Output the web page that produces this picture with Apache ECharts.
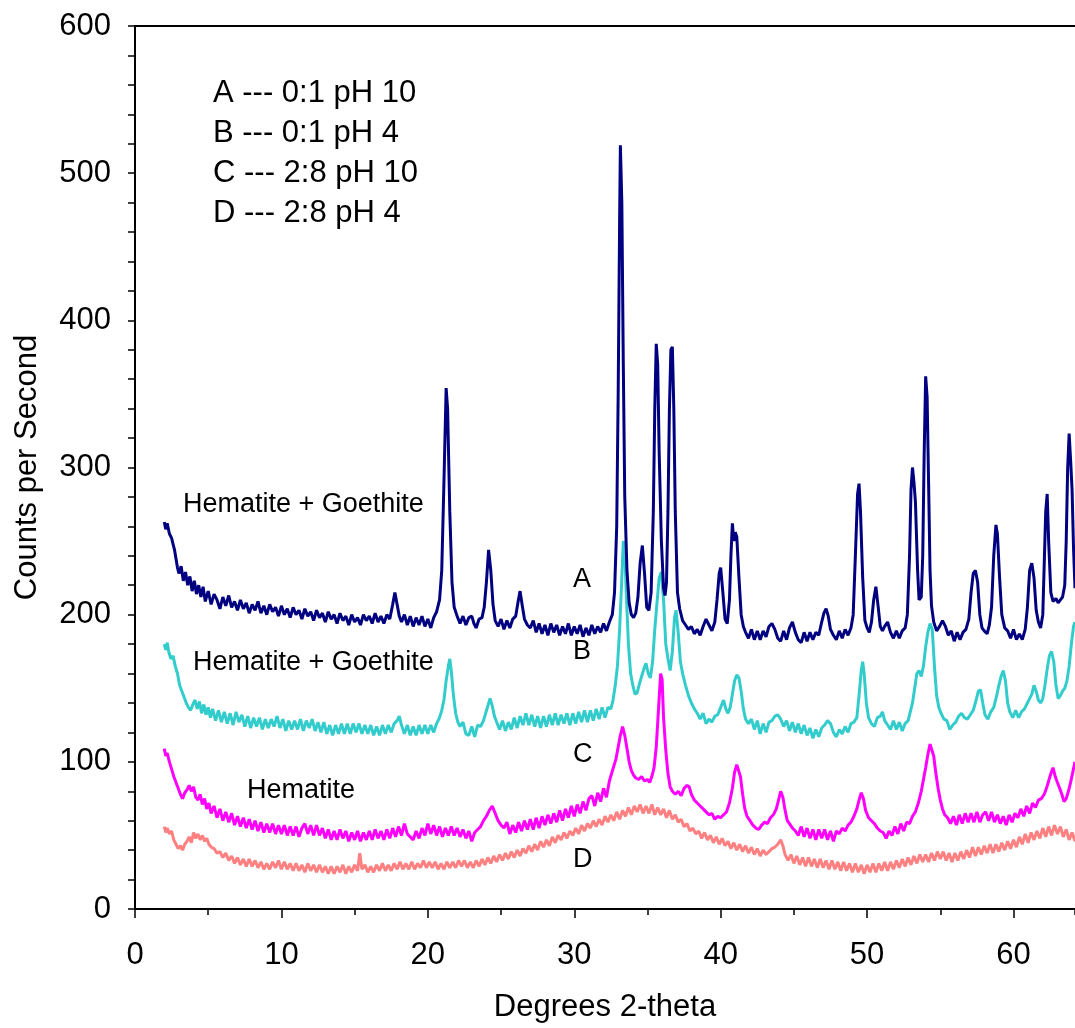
<!DOCTYPE html>
<html>
<head>
<meta charset="utf-8">
<script src="https://cdn.jsdelivr.net/npm/echarts@6/dist/echarts.min.js"></script>
<style>
  html, body { margin: 0; padding: 0; background: #fff; }
  #chart { width: 1075px; height: 1028px; }
</style>
</head>
<body>
<div id="chart"></div>
<script>
// [2-theta, counts per second]
const seriesA = [
  [2.0,263],[2.1,258],[2.2,262],[2.35,255],[2.5,252],[2.6,248],[2.7,244],[2.8,238],[2.9,232],[3.0,228],
  [3.15,233],[3.3,223],[3.45,229],[3.6,220],[3.75,226],[3.9,216],[4.05,223],[4.2,214],[4.35,220],[4.5,212],
  [4.65,219],[4.8,209],[5.0,216],[5.2,207],[5.4,214],[5.6,210],[5.8,204],[6.0,212],[6.2,206],[6.4,213],
  [6.6,205],[6.8,209],[7.0,203],[7.2,210],[7.4,204],[7.6,208],[7.8,201],[8.0,207],[8.2,203],[8.4,209],
  [8.6,201],[8.8,206],[9.0,200],[9.2,207],[9.4,202],[9.6,205],[9.8,199],[10.0,206],[10.2,200],[10.4,204],
  [10.6,198],[10.8,205],[11.0,200],[11.2,203],[11.4,197],[11.6,204],[11.8,199],[12.0,202],[12.2,196],[12.4,203],
  [12.6,198],[12.8,201],[13.0,195],[13.2,202],[13.4,197],[13.6,200],[13.8,194],[14.0,201],[14.2,196],[14.4,199],
  [14.6,193],[14.8,200],[15.0,195],[15.2,198],[15.4,193],[15.6,200],[15.8,196],[16.0,199],[16.2,194],[16.4,201],
  [16.6,195],[16.8,199],[17.0,194],[17.2,200],[17.4,197],[17.6,207],[17.75,215],[17.9,207],[18.05,199],[18.2,195],
  [18.4,200],[18.6,193],[18.8,199],[19.0,192],[19.2,198],[19.4,193],[19.6,199],[19.8,192],[20.0,197],[20.2,191],
  [20.4,198],[20.6,202],[20.8,210],[20.95,230],[21.1,290],[21.25,354],[21.35,340],[21.5,270],[21.65,222],[21.8,205],
  [22.0,199],[22.2,194],[22.4,199],[22.6,193],[22.8,198],[23.0,199],[23.15,194],[23.3,191],[23.5,197],[23.7,198],
  [23.85,205],[24.0,222],[24.15,244],[24.3,230],[24.45,207],[24.6,196],[24.8,192],[25.0,197],[25.2,190],[25.4,196],
  [25.6,191],[25.8,197],[26.0,199],[26.15,208],[26.3,216],[26.45,206],[26.6,197],[26.8,193],[27.0,191],[27.2,196],
  [27.4,188],[27.6,194],[27.8,187],[28.0,193],[28.2,186],[28.4,194],[28.6,188],[28.8,193],[29.0,186],[29.2,192],
  [29.4,187],[29.6,194],[29.8,186],[30.0,192],[30.2,187],[30.4,193],[30.6,185],[30.8,191],[31.0,186],[31.2,193],
  [31.4,187],[31.6,192],[31.8,188],[32.0,194],[32.2,189],[32.4,195],[32.6,200],[32.75,215],[32.9,260],[33.0,350],
  [33.1,470],[33.15,519],[33.25,480],[33.35,370],[33.45,280],[33.6,230],[33.75,208],[33.9,200],[34.05,198],[34.2,201],
  [34.35,212],[34.5,235],[34.65,247],[34.8,228],[34.95,205],[35.1,203],[35.25,215],[35.4,270],[35.5,340],[35.6,384],
  [35.7,370],[35.8,310],[35.95,250],[36.1,218],[36.2,213],[36.3,222],[36.4,270],[36.5,340],[36.6,380],[36.7,382],
  [36.8,340],[36.9,270],[37.05,215],[37.2,204],[37.4,196],[37.6,193],[37.8,190],[38.0,192],[38.2,187],[38.4,190],
  [38.6,186],[38.8,192],[39.0,197],[39.2,193],[39.4,189],[39.6,195],[39.75,210],[39.9,228],[40.0,232],[40.15,215],
  [40.3,197],[40.45,194],[40.6,210],[40.7,240],[40.8,262],[40.9,250],[41.0,256],[41.1,253],[41.25,225],[41.4,200],
  [41.55,192],[41.7,188],[41.9,184],[42.1,190],[42.3,183],[42.5,189],[42.7,183],[42.9,189],[43.1,185],[43.3,192],
  [43.5,194],[43.7,190],[43.9,184],[44.1,182],[44.3,189],[44.5,183],[44.7,191],[44.9,195],[45.1,188],[45.3,183],
  [45.5,181],[45.7,188],[45.9,182],[46.1,188],[46.3,183],[46.5,188],[46.7,186],[46.9,195],[47.05,201],[47.2,204],
  [47.35,199],[47.5,190],[47.7,186],[47.9,183],[48.1,189],[48.3,184],[48.5,190],[48.7,186],[48.9,191],[49.05,200],
  [49.2,240],[49.35,282],[49.45,289],[49.55,270],[49.7,225],[49.85,196],[50.0,191],[50.15,188],[50.3,195],[50.45,210],
  [50.6,219],[50.75,206],[50.9,192],[51.05,189],[51.2,192],[51.4,195],[51.6,188],[51.8,184],[52.0,189],[52.2,184],
  [52.4,189],[52.6,191],[52.75,200],[52.9,240],[53.0,285],[53.1,300],[53.2,290],[53.3,277],[53.45,230],[53.55,210],
  [53.7,212],[53.8,240],[53.9,310],[54.0,362],[54.1,348],[54.2,290],[54.3,230],[54.4,206],[54.55,195],[54.75,189],
  [54.95,192],[55.15,196],[55.35,192],[55.55,186],[55.75,189],[55.95,182],[56.15,188],[56.35,183],[56.55,188],[56.75,190],
  [56.95,197],[57.1,215],[57.25,228],[57.4,230],[57.55,222],[57.7,200],[57.85,191],[58.0,189],[58.2,187],[58.35,193],
  [58.5,205],[58.65,240],[58.8,261],[58.9,255],[59.05,225],[59.2,200],[59.4,191],[59.6,189],[59.8,184],[60.0,190],
  [60.2,183],[60.4,187],[60.6,183],[60.8,190],[60.95,205],[61.1,230],[61.25,235],[61.4,225],[61.55,203],[61.7,195],
  [61.85,191],[62.0,200],[62.1,235],[62.2,270],[62.3,282],[62.4,250],[62.55,215],[62.7,209],[62.9,211],[63.05,208],
  [63.2,210],[63.35,212],[63.5,220],[63.6,250],[63.7,300],[63.8,323],[63.9,305],[64.0,285],[64.1,245],[64.2,218]
];

const seriesB = [
  [2.0,180],[2.1,176],[2.2,181],[2.3,175],[2.45,170],[2.6,172],[2.75,165],[2.9,160],[3.05,152],[3.2,148],
  [3.35,144],[3.5,140],[3.65,137],[3.8,135],[3.95,139],[4.1,142],[4.25,136],[4.4,141],[4.55,133],[4.7,139],
  [4.85,132],[5.0,137],[5.15,130],[5.3,136],[5.5,128],[5.7,135],[5.9,127],[6.1,134],[6.3,126],[6.5,133],
  [6.7,125],[6.9,134],[7.1,127],[7.3,132],[7.5,124],[7.7,131],[7.9,123],[8.1,130],[8.3,124],[8.5,130],
  [8.7,122],[8.9,129],[9.1,123],[9.3,129],[9.5,124],[9.7,131],[9.9,123],[10.1,129],[10.3,121],[10.5,128],
  [10.7,122],[10.9,128],[11.1,122],[11.3,129],[11.5,121],[11.7,128],[11.9,123],[12.1,129],[12.3,121],[12.5,127],
  [12.7,120],[12.9,127],[13.1,119],[13.3,125],[13.5,118],[13.7,125],[13.9,119],[14.1,126],[14.3,119],[14.5,126],
  [14.7,119],[14.9,126],[15.1,120],[15.3,126],[15.5,119],[15.7,125],[15.9,119],[16.1,125],[16.3,118],[16.5,124],
  [16.7,118],[16.9,125],[17.1,119],[17.3,125],[17.5,120],[17.7,126],[17.9,128],[18.05,131],[18.2,125],[18.4,119],
  [18.6,125],[18.8,118],[19.0,124],[19.2,118],[19.4,125],[19.6,119],[19.8,125],[20.0,119],[20.2,125],[20.4,120],
  [20.6,126],[20.8,130],[20.95,135],[21.1,142],[21.25,155],[21.4,165],[21.5,170],[21.6,162],[21.75,145],[21.9,133],
  [22.05,127],[22.2,124],[22.4,127],[22.6,119],[22.8,118],[23.0,124],[23.2,117],[23.4,125],[23.6,124],[23.8,128],
  [23.95,133],[24.1,138],[24.25,143],[24.4,138],[24.55,131],[24.7,127],[24.9,122],[25.1,128],[25.3,121],[25.5,127],
  [25.7,122],[25.9,130],[26.1,123],[26.3,131],[26.5,125],[26.7,133],[26.9,125],[27.1,132],[27.3,124],[27.5,131],
  [27.7,123],[27.9,131],[28.1,124],[28.3,132],[28.5,125],[28.7,133],[28.9,125],[29.1,132],[29.3,126],[29.5,133],
  [29.7,125],[29.9,133],[30.1,126],[30.3,134],[30.5,127],[30.7,135],[30.9,127],[31.1,135],[31.3,128],[31.5,136],
  [31.7,129],[31.9,137],[32.1,130],[32.3,137],[32.5,136],[32.65,142],[32.8,152],[32.95,165],[33.1,190],[33.25,225],
  [33.35,250],[33.45,245],[33.55,215],[33.7,180],[33.85,160],[34.0,152],[34.15,146],[34.3,147],[34.45,153],[34.6,158],
  [34.75,163],[34.9,167],[35.05,160],[35.2,157],[35.35,168],[35.5,190],[35.65,208],[35.8,225],[35.95,229],[36.1,210],
  [36.25,180],[36.4,170],[36.55,162],[36.7,175],[36.85,198],[36.95,203],[37.1,188],[37.25,168],[37.4,160],[37.6,152],
  [37.8,145],[38.0,140],[38.2,136],[38.4,133],[38.6,129],[38.8,133],[39.0,126],[39.2,129],[39.4,127],[39.6,131],
  [39.8,132],[40.0,137],[40.2,142],[40.35,136],[40.5,133],[40.65,137],[40.8,146],[40.95,155],[41.1,159],[41.25,157],
  [41.4,148],[41.55,136],[41.7,129],[41.9,126],[42.1,129],[42.3,122],[42.5,128],[42.7,119],[42.9,126],[43.1,120],
  [43.3,127],[43.5,128],[43.7,131],[43.9,132],[44.1,129],[44.3,124],[44.5,128],[44.7,121],[44.9,127],[45.1,120],
  [45.3,126],[45.5,119],[45.7,125],[45.9,118],[46.1,123],[46.3,116],[46.5,122],[46.7,117],[46.9,123],[47.1,125],
  [47.3,128],[47.5,126],[47.7,120],[47.9,117],[48.1,122],[48.3,119],[48.5,124],[48.7,120],[48.9,126],[49.1,127],
  [49.3,130],[49.45,145],[49.6,162],[49.7,168],[49.8,160],[49.95,140],[50.1,130],[50.3,126],[50.5,124],[50.7,130],
  [50.9,131],[51.05,134],[51.2,128],[51.4,125],[51.6,122],[51.8,128],[52.0,122],[52.2,127],[52.4,121],[52.6,126],
  [52.8,128],[52.95,134],[53.1,140],[53.25,150],[53.4,160],[53.55,162],[53.7,158],[53.85,165],[54.0,178],[54.15,188],
  [54.3,194],[54.45,190],[54.6,165],[54.75,145],[54.9,137],[55.05,133],[55.25,129],[55.45,128],[55.65,122],[55.85,125],
  [56.05,127],[56.25,131],[56.45,133],[56.65,130],[56.85,129],[57.05,132],[57.25,135],[57.45,142],[57.6,148],[57.75,149],
  [57.9,140],[58.05,132],[58.25,129],[58.45,134],[58.65,137],[58.85,145],[59.0,152],[59.15,158],[59.3,162],[59.45,155],
  [59.6,140],[59.75,134],[59.95,130],[60.15,135],[60.35,130],[60.55,134],[60.75,136],[60.95,140],[61.1,143],[61.25,146],
  [61.4,152],[61.55,148],[61.7,142],[61.85,140],[62.0,143],[62.15,152],[62.3,163],[62.45,172],[62.6,175],[62.75,168],
  [62.9,152],[63.05,143],[63.2,145],[63.35,148],[63.5,150],[63.65,155],[63.8,165],[63.95,180],[64.1,192],[64.2,195]
];

const seriesC = [
  [2.0,109],[2.1,104],[2.2,106],[2.35,100],[2.5,95],[2.65,90],[2.8,86],[2.95,82],[3.1,78],[3.25,75],
  [3.4,79],[3.55,81],[3.7,84],[3.85,80],[4.0,83],[4.15,76],[4.3,74],[4.45,78],[4.6,71],[4.75,75],
  [4.9,68],[5.05,72],[5.2,65],[5.4,70],[5.6,62],[5.8,68],[6.0,60],[6.2,66],[6.4,59],[6.6,65],
  [6.8,57],[7.0,63],[7.2,56],[7.4,62],[7.6,55],[7.8,61],[8.0,54],[8.2,60],[8.4,53],[8.6,59],
  [8.8,52],[9.0,58],[9.2,52],[9.4,58],[9.6,51],[9.8,57],[10.0,51],[10.2,57],[10.4,50],[10.6,56],
  [10.8,50],[11.0,56],[11.2,49],[11.4,55],[11.6,58],[11.8,51],[12.0,57],[12.2,50],[12.4,57],[12.6,50],
  [12.8,55],[13.0,48],[13.2,54],[13.4,47],[13.6,53],[13.8,47],[14.0,54],[14.2,48],[14.4,53],[14.6,46],
  [14.8,52],[15.0,47],[15.2,53],[15.4,46],[15.6,52],[15.8,47],[16.0,53],[16.2,47],[16.4,54],[16.6,48],
  [16.8,53],[17.0,47],[17.2,54],[17.4,48],[17.6,55],[17.8,49],[18.0,56],[18.2,50],[18.4,58],[18.6,51],
  [18.8,49],[19.0,47],[19.2,53],[19.4,48],[19.6,55],[19.8,50],[20.0,58],[20.2,51],[20.4,57],[20.6,50],
  [20.8,56],[21.0,49],[21.2,55],[21.4,50],[21.6,56],[21.8,50],[22.0,55],[22.2,49],[22.4,54],[22.6,48],
  [22.8,53],[23.0,46],[23.2,52],[23.4,54],[23.6,56],[23.8,60],[24.0,63],[24.2,67],[24.4,70],[24.6,65],
  [24.8,60],[25.0,57],[25.2,55],[25.4,59],[25.6,51],[25.8,57],[26.0,52],[26.2,59],[26.4,53],[26.6,60],
  [26.8,54],[27.0,61],[27.2,54],[27.4,62],[27.6,55],[27.8,63],[28.0,57],[28.2,64],[28.4,58],[28.6,65],
  [28.8,59],[29.0,67],[29.2,60],[29.4,68],[29.6,62],[29.8,70],[30.0,63],[30.2,71],[30.4,65],[30.6,73],
  [30.8,67],[31.0,75],[31.2,77],[31.4,70],[31.6,79],[31.8,73],[32.0,82],[32.2,76],[32.4,87],[32.55,92],
  [32.7,97],[32.85,102],[33.0,110],[33.15,118],[33.3,124],[33.45,118],[33.6,109],[33.75,100],[33.9,94],[34.05,91],
  [34.2,89],[34.4,88],[34.6,90],[34.8,87],[35.0,88],[35.15,86],[35.3,90],[35.45,96],[35.6,110],[35.75,135],
  [35.9,160],[36.0,156],[36.1,130],[36.25,108],[36.4,92],[36.55,83],[36.7,80],[36.9,78],[37.1,80],[37.3,77],
  [37.5,82],[37.7,84],[37.85,83],[38.0,78],[38.2,74],[38.4,72],[38.6,70],[38.8,68],[39.0,66],[39.2,64],
  [39.4,65],[39.6,61],[39.8,63],[40.0,62],[40.2,64],[40.4,66],[40.6,72],[40.8,82],[40.95,93],[41.1,98],
  [41.2,99],[41.35,90],[41.5,78],[41.65,68],[41.8,63],[42.0,60],[42.2,57],[42.4,55],[42.6,54],[42.8,57],
  [43.0,59],[43.2,58],[43.4,62],[43.6,64],[43.8,68],[43.95,74],[44.1,80],[44.25,76],[44.4,67],[44.55,60],
  [44.7,58],[44.9,55],[45.1,53],[45.3,50],[45.5,56],[45.7,49],[45.9,55],[46.1,48],[46.3,54],[46.5,47],
  [46.7,54],[46.9,48],[47.1,54],[47.3,47],[47.5,53],[47.7,46],[47.9,53],[48.1,51],[48.3,55],[48.5,53],
  [48.7,57],[48.9,59],[49.1,63],[49.3,68],[49.45,74],[49.6,79],[49.75,75],[49.9,67],[50.1,62],[50.3,60],
  [50.5,58],[50.7,55],[50.9,53],[51.1,52],[51.3,48],[51.5,53],[51.7,50],[51.9,56],[52.1,51],[52.3,58],
  [52.5,53],[52.7,59],[52.9,58],[53.1,63],[53.3,66],[53.5,72],[53.7,80],[53.85,88],[54.0,96],[54.15,105],
  [54.3,112],[54.4,113],[54.55,104],[54.7,92],[54.85,82],[55.0,74],[55.15,68],[55.3,64],[55.5,62],[55.7,58],
  [55.9,63],[56.1,57],[56.3,64],[56.5,58],[56.7,65],[56.9,59],[57.1,65],[57.3,59],[57.5,66],[57.7,59],
  [57.9,64],[58.1,66],[58.3,60],[58.5,66],[58.7,59],[58.9,64],[59.1,58],[59.3,63],[59.5,57],[59.7,64],
  [59.9,59],[60.1,65],[60.3,62],[60.5,68],[60.7,63],[60.9,70],[61.1,65],[61.3,72],[61.5,69],[61.7,74],
  [61.9,75],[62.1,78],[62.25,82],[62.4,87],[62.55,92],[62.7,96],[62.85,90],[63.0,86],[63.15,82],[63.3,78],
  [63.45,73],[63.6,75],[63.75,80],[63.9,86],[64.05,93],[64.2,100]
];

const seriesD = [
  [2.0,56],[2.1,52],[2.2,55],[2.35,51],[2.5,53],[2.65,47],[2.8,44],[2.95,41],[3.1,43],[3.25,40],
  [3.4,44],[3.55,46],[3.7,49],[3.85,45],[4.0,52],[4.15,48],[4.3,51],[4.45,47],[4.6,50],[4.75,46],
  [4.9,48],[5.05,44],[5.2,42],[5.4,41],[5.6,38],[5.8,39],[6.0,35],[6.2,38],[6.4,33],[6.6,36],
  [6.8,31],[7.0,35],[7.2,30],[7.4,34],[7.6,29],[7.8,34],[8.0,29],[8.2,33],[8.4,28],[8.6,32],
  [8.8,27],[9.0,31],[9.2,27],[9.4,32],[9.6,28],[9.8,33],[10.0,27],[10.2,32],[10.4,27],[10.6,31],
  [10.8,26],[11.0,31],[11.2,26],[11.4,30],[11.6,25],[11.8,31],[12.0,26],[12.2,30],[12.4,25],[12.6,30],
  [12.8,25],[13.0,29],[13.2,24],[13.4,29],[13.6,24],[13.8,29],[14.0,25],[14.2,30],[14.4,24],[14.6,29],
  [14.8,25],[15.0,30],[15.2,26],[15.35,38],[15.5,27],[15.7,30],[15.9,25],[16.1,29],[16.3,25],[16.5,30],
  [16.7,26],[16.9,31],[17.1,26],[17.3,30],[17.5,26],[17.7,31],[17.9,27],[18.1,32],[18.3,27],[18.5,31],
  [18.7,27],[18.9,32],[19.1,27],[19.3,31],[19.5,28],[19.7,33],[19.9,28],[20.1,32],[20.3,28],[20.5,32],
  [20.7,27],[20.9,31],[21.1,27],[21.3,32],[21.5,28],[21.7,32],[21.9,28],[22.1,33],[22.3,29],[22.5,33],
  [22.7,28],[22.9,32],[23.1,28],[23.3,33],[23.5,29],[23.7,34],[23.9,30],[24.1,35],[24.3,31],[24.5,36],
  [24.7,32],[24.9,37],[25.1,33],[25.3,38],[25.5,34],[25.7,39],[25.9,35],[26.1,40],[26.3,36],[26.5,41],
  [26.7,38],[26.9,43],[27.1,39],[27.3,44],[27.5,40],[27.7,46],[27.9,42],[28.1,47],[28.3,43],[28.5,49],
  [28.7,45],[28.9,50],[29.1,47],[29.3,52],[29.5,48],[29.7,53],[29.9,50],[30.1,55],[30.3,51],[30.5,57],
  [30.7,53],[30.9,58],[31.1,55],[31.3,60],[31.5,56],[31.7,61],[31.9,57],[32.1,63],[32.3,59],[32.5,64],
  [32.7,60],[32.9,66],[33.1,61],[33.3,67],[33.5,63],[33.7,69],[33.9,64],[34.1,70],[34.3,66],[34.5,71],
  [34.7,65],[34.9,70],[35.1,65],[35.3,71],[35.5,64],[35.7,69],[35.9,64],[36.1,68],[36.3,62],[36.5,67],
  [36.7,61],[36.9,64],[37.1,59],[37.3,61],[37.5,56],[37.7,58],[37.9,53],[38.1,55],[38.3,51],[38.5,53],
  [38.7,48],[38.9,52],[39.1,47],[39.3,50],[39.5,45],[39.7,49],[39.9,44],[40.1,48],[40.3,43],[40.5,46],
  [40.7,41],[40.9,45],[41.1,40],[41.3,44],[41.5,39],[41.7,43],[41.9,38],[42.1,42],[42.3,37],[42.5,41],
  [42.7,36],[42.9,40],[43.1,37],[43.3,39],[43.5,41],[43.7,42],[43.9,44],[44.1,47],[44.25,43],[44.4,37],
  [44.6,33],[44.8,37],[45.0,31],[45.2,36],[45.4,30],[45.6,35],[45.8,29],[46.0,35],[46.2,29],[46.4,34],
  [46.6,28],[46.8,34],[47.0,28],[47.2,33],[47.4,27],[47.6,33],[47.8,27],[48.0,32],[48.2,26],[48.4,32],
  [48.6,26],[48.8,31],[49.0,25],[49.2,31],[49.4,25],[49.6,30],[49.8,24],[50.0,30],[50.2,25],[50.4,31],
  [50.6,25],[50.8,31],[51.0,26],[51.2,32],[51.4,26],[51.6,32],[51.8,27],[52.0,33],[52.2,28],[52.4,34],
  [52.6,29],[52.8,35],[53.0,30],[53.2,36],[53.4,31],[53.6,37],[53.8,32],[54.0,37],[54.2,32],[54.4,38],
  [54.6,33],[54.8,39],[55.0,34],[55.2,39],[55.4,33],[55.6,38],[55.8,32],[56.0,38],[56.2,33],[56.4,39],
  [56.6,34],[56.8,40],[57.0,35],[57.2,42],[57.4,36],[57.6,42],[57.8,37],[58.0,43],[58.2,38],[58.4,44],
  [58.6,38],[58.8,44],[59.0,39],[59.2,45],[59.4,40],[59.6,46],[59.8,41],[60.0,47],[60.2,42],[60.4,49],
  [60.6,44],[60.8,51],[61.0,45],[61.2,52],[61.4,47],[61.6,53],[61.8,48],[62.0,55],[62.2,49],[62.4,56],
  [62.6,50],[62.8,57],[63.0,51],[63.2,56],[63.4,49],[63.6,54],[63.8,47],[64.0,52],[64.2,46]
];

const seriesNames = ['A', 'B', 'C', 'D'];
const seriesColors = ['#000080', '#33CCCC', '#FF00FF', '#FF8080'];
const legendLines = ['A --- 0:1 pH 10', 'B --- 0:1 pH 4', 'C --- 2:8 pH 10', 'D --- 2:8 pH 4'];

const FONT = '"Liberation Sans", Arial, Helvetica, sans-serif';
const chart = echarts.init(document.getElementById('chart'), null, { renderer: 'canvas' });

const axisLineStyle = { show: true, lineStyle: { color: '#000', width: 2 } };

const makeText = (text, left, top, size) => ({
  type: 'text', left, top,
  style: { text, font: `${size}px ${FONT}`, fill: '#000' }
});

chart.setOption({
  animation: false,
  backgroundColor: '#fff',
  textStyle: { fontFamily: FONT },
  grid: { left: 135, top: 26, right: 0, bottom: 117 },
  xAxis: [
    {
      type: 'value', min: 0, max: 64.2, interval: 10,
      name: 'Degrees 2-theta', nameLocation: 'middle', nameGap: 83,
      nameTextStyle: { fontSize: 31, color: '#000', fontFamily: FONT },
      axisLine: axisLineStyle,
      axisTick: { show: true, inside: false, length: 9, lineStyle: { color: '#000', width: 1.5 } },
      axisLabel: { fontSize: 31, color: '#000', margin: 31, showMaxLabel: false, fontFamily: FONT },
      splitLine: { show: false }
    },
    {
      // minor ticks every 5 degrees
      type: 'value', min: 0, max: 64.2, interval: 5, position: 'bottom',
      axisLine: { show: false },
      axisTick: { show: true, length: 6, lineStyle: { color: '#000', width: 1.5 } },
      axisLabel: { show: false },
      splitLine: { show: false }
    },
    {
      // top frame line
      type: 'value', min: 0, max: 64.2, position: 'top',
      axisLine: axisLineStyle,
      axisTick: { show: false }, axisLabel: { show: false }, splitLine: { show: false }
    }
  ],
  yAxis: {
    type: 'value', min: 0, max: 600, interval: 20,
    name: 'Counts per Second', nameLocation: 'middle', nameGap: 92, nameRotate: 90,
    nameTextStyle: { fontSize: 31, color: '#000', fontFamily: FONT },
    axisLine: axisLineStyle,
    axisTick: { show: true, length: 7, lineStyle: { color: '#000', width: 1.5 } },
    axisLabel: {
      fontSize: 31, color: '#000', margin: 24, fontFamily: FONT,
      formatter: v => (v % 100 === 0 ? String(v) : '')
    },
    splitLine: { show: false }
  },
  series: [seriesA, seriesB, seriesC, seriesD].map((data, i) => ({
    name: seriesNames[i],
    type: 'line',
    data,
    showSymbol: false,
    symbol: 'none',
    lineStyle: { color: seriesColors[i], width: 3 },
    z: 4 - i
  })),
  graphic: [
    ...legendLines.map((t, i) => makeText(t, 213, 78 + i * 40, 31)),
    makeText('Hematite + Goethite', 183, 491, 27),
    makeText('Hematite + Goethite', 193, 649, 27),
    makeText('Hematite', 247, 777, 27),
    makeText('A', 573, 566, 27),
    makeText('B', 573, 638, 27),
    makeText('C', 573, 741, 27),
    makeText('D', 573, 846, 27)
  ]
});
</script>
</body>
</html>
